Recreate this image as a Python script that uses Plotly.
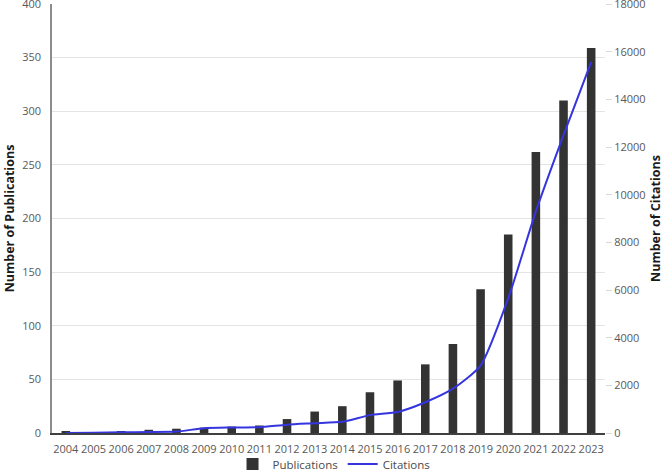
import plotly.graph_objects as go

years = [str(y) for y in range(2004, 2024)]
publications = [1, 0, 1, 3, 4, 5, 6, 7, 13, 20, 25, 38, 49, 64, 83, 134, 185, 262, 310, 359]
citations = [0, 10, 30, 40, 60, 200, 230, 245, 350, 410, 470, 750, 880, 1290, 1860, 2830, 5650, 9300, 12500, 15560]

font_family = "Open Sans, Liberation Sans, sans-serif"
tick_color = "#595959"

fig = go.Figure()
fig.add_trace(go.Bar(
    x=years, y=publications, name="Publications",
    marker=dict(color="#333333", line=dict(width=0)),
    yaxis="y",
))
fig.add_trace(go.Scatter(
    x=years, y=citations, name="Citations", mode="lines",
    line=dict(color="#3535e0", width=2, shape="spline", smoothing=0.6),
    yaxis="y2",
))

fig.update_layout(
    width=666, height=474,
    margin=dict(l=52, r=61, t=4, b=41, autoexpand=False),
    plot_bgcolor="white", paper_bgcolor="white",
    font=dict(family=font_family, size=11, color=tick_color),
    bargap=0.69,
    showlegend=True,
    legend=dict(orientation="h", x=0.51, xanchor="center",
                yref="container", y=0.021, yanchor="middle",
                font=dict(size=11.5, color="#4a4a4a"), itemwidth=30,
                traceorder="normal", bgcolor="rgba(0,0,0,0)"),
    xaxis=dict(
        type="category", showgrid=False, automargin=False,
        showline=True, linecolor="#404040", linewidth=1.5,
        ticks="", tickfont=dict(size=11, color=tick_color), ticklabelstandoff=5,
        fixedrange=True,
    ),
    yaxis=dict(
        range=[0, 400], dtick=50, showgrid=True, gridcolor="#e4e4e4", gridwidth=1.2,
        showline=True, linecolor="#8c8c8c", linewidth=1.5, automargin=False,
        ticks="", tickfont=dict(size=11, color=tick_color), zeroline=False,
        ticklabelstandoff=7, ticklabeloverflow="allow",
        title=dict(text="<b>Number of Publications</b>", font=dict(size=12.5, color="#1a1a1a"), standoff=5),
    ),
    yaxis2=dict(
        range=[0, 18000], dtick=2000, overlaying="y", side="right", automargin=False,
        showgrid=False, showline=False, zeroline=False, tickformat="d",
        ticks="outside", ticklen=6, tickcolor="#d9d9d9", tickwidth=1,
        tickfont=dict(size=11, color=tick_color), ticklabeloverflow="allow",
        title=dict(text="<b>Number of Citations</b>", font=dict(size=12.5, color="#1a1a1a"), standoff=6),
    ),
)

fig.write_html("out.html", config={"displayModeBar": False},
               post_script="document.body.style.margin='0';document.body.style.overflow='hidden';")
